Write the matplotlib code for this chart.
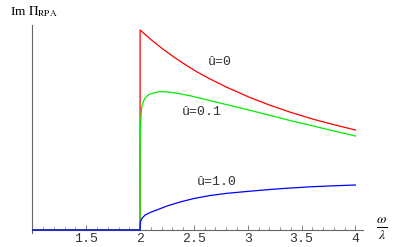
"""Im Pi_RPA versus omega/lambda for three values of u-hat."""
import matplotlib.pyplot as plt
from matplotlib.ticker import MultipleLocator

# values
x_red = [1.0, 2.0, 2.0, 2.1, 2.21, 2.3, 2.4, 2.53, 2.65, 2.8, 3.02, 3.2,
         3.4, 3.6, 3.8, 4.0]
y_red = [0.0, 0.0, 2.00, 1.905, 1.81, 1.74, 1.667, 1.58, 1.51, 1.43, 1.325,
         1.25, 1.176, 1.11, 1.053, 1.00]

x_green = [1.0, 2.0, 2.001, 2.003, 2.0065, 2.011, 2.016, 2.03, 2.047, 2.07,
           2.093, 2.14, 2.186, 2.25, 2.307, 2.38, 2.465, 2.55, 2.651, 2.8,
           3.02, 3.2, 3.395, 3.6, 3.8, 4.0]
y_green = [0.0, 0.0, 0.85, 1.00, 1.10, 1.18, 1.233, 1.285, 1.32, 1.345,
           1.36, 1.375, 1.383, 1.381, 1.373, 1.36, 1.342, 1.32, 1.293, 1.255,
           1.197, 1.148, 1.094, 1.042, 0.99, 0.94]

x_blue = [1.0, 2.0, 2.001, 2.004, 2.009, 2.02, 2.047, 2.1, 2.155, 2.25,
          2.372, 2.5, 2.651, 2.8, 3.0, 3.116, 3.3, 3.581, 3.8, 4.0]
y_blue = [0.0, 0.0, 0.05, 0.08, 0.10, 0.12, 0.15, 0.178, 0.20, 0.24,
          0.28, 0.315, 0.345, 0.366, 0.386, 0.397, 0.413, 0.432, 0.442, 0.45]

labels = ["û=0", "û=0.1", "û=1.0"]
label_xy = [(2.74, 1.68), (2.57, 1.18), (2.71, 0.48)]

xticks = [1.5, 2, 2.5, 3, 3.5, 4]
xtick_labels = ["1.5", "2", "2.5", "3", "3.5", "4"]


def main():
    """Main."""
    plt.rcParams["mathtext.fontset"] = "stix"
    fig = plt.figure(figsize=(4.0, 2.47), dpi=100)
    ax = fig.add_axes([0.081, 0.0567, 0.8265, 0.8421])
    axis_col = "#666666"
    mono = "Liberation Mono"

    ax.plot(x_red, y_red, color="#ff0000", lw=0.9)
    ax.plot(x_green, y_green, color="#00ee00", lw=0.9)
    ax.plot(x_blue, y_blue, color="#0000ff", lw=0.9, zorder=3)

    for text, (tx, ty) in zip(labels, label_xy):
        ax.text(tx, ty, text, family=mono, fontsize=9.5, color="#333333",
                ha="center", va="center")

    ax.set_xlim(1.0, 4.07)
    ax.set_ylim(-0.03, 2.05)
    ax.spines["top"].set_visible(False)
    ax.spines["right"].set_visible(False)
    ax.spines["bottom"].set_position(("data", 0))
    for side in ("left", "bottom"):
        ax.spines[side].set_color(axis_col)
        ax.spines[side].set_linewidth(0.8)

    ax.set_yticks([])
    ax.set_xticks(xticks, labels=xtick_labels)
    ax.xaxis.set_minor_locator(MultipleLocator(0.1))
    ax.tick_params(axis="x", which="major", direction="in", length=3.5,
                   width=0.6, color=axis_col, pad=2, labelsize=9.5,
                   labelcolor="#333333")
    ax.tick_params(axis="x", which="minor", direction="in", length=2,
                   width=0.5, color=axis_col)
    for lab in ax.get_xticklabels():
        lab.set_family(mono)

    fig.text(10 / 400, 1 - 12 / 247, r"Im $\Pi_{\mathrm{RPA}}$",
             family="Liberation Serif", fontsize=9.5, ha="left", va="center")
    fig.text(382 / 400, 1 - 229 / 247, r"$\frac{\omega}{\lambda}$",
             fontsize=14, ha="center", va="center")

    fig.savefig("out.png")
    plt.close(fig)


if __name__ == "__main__":
    main()
